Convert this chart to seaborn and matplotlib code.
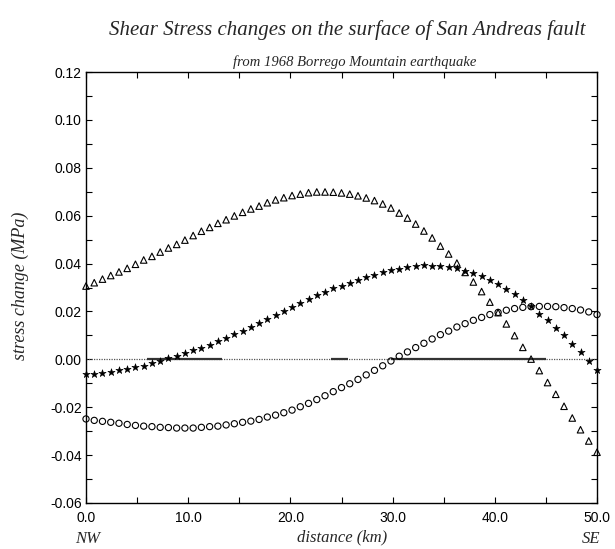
import numpy as np
import pandas as pd
import matplotlib
matplotlib.use("Agg")
import matplotlib.pyplot as plt
import seaborn as sns
from matplotlib.ticker import MultipleLocator, FormatStrFormatter

# ---- data ----
distance_km = np.linspace(0, 50, 63)

triangles = [0.0306, 0.0320, 0.0335, 0.0350, 0.0365, 0.0380, 0.0397, 0.0415, 0.0430, 0.0448,
             0.0465, 0.0480, 0.0498, 0.0517, 0.0535, 0.0551, 0.0568, 0.0583, 0.0599, 0.0614,
             0.0628, 0.0640, 0.0654, 0.0666, 0.0675, 0.0684, 0.0690, 0.0696, 0.0699, 0.0699,
             0.0698, 0.0695, 0.0690, 0.0683, 0.0674, 0.0663, 0.0649, 0.0632, 0.0611, 0.0590,
             0.0565, 0.0536, 0.0507, 0.0473, 0.0440, 0.0402, 0.0363, 0.0323, 0.0283, 0.0239,
             0.0195, 0.0148, 0.0099, 0.0050, 0.0001, -0.0047, -0.0097, -0.0146, -0.0196, -0.0245,
             -0.0294, -0.0341, -0.0388]

stars = [-0.0063, -0.0060, -0.0056, -0.0052, -0.0046, -0.0040, -0.0033, -0.0027, -0.0017, -0.0007,
         0.0004, 0.0015, 0.0026, 0.0038, 0.0049, 0.0061, 0.0075, 0.0089, 0.0104, 0.0120,
         0.0135, 0.0152, 0.0168, 0.0185, 0.0202, 0.0218, 0.0235, 0.0252, 0.0268, 0.0283,
         0.0296, 0.0307, 0.0318, 0.0330, 0.0343, 0.0354, 0.0363, 0.0373, 0.0379, 0.0386,
         0.0390, 0.0393, 0.0391, 0.0390, 0.0387, 0.0380, 0.0369, 0.0360, 0.0347, 0.0333,
         0.0313, 0.0295, 0.0272, 0.0246, 0.0221, 0.0191, 0.0163, 0.0132, 0.0100, 0.0066,
         0.0031, -0.0007, -0.0046]

circles = [-0.0249, -0.0255, -0.0259, -0.0263, -0.0267, -0.0272, -0.0276, -0.0279, -0.0281, -0.0284,
           -0.0285, -0.0287, -0.0287, -0.0287, -0.0284, -0.0281, -0.0279, -0.0274, -0.0269, -0.0263,
           -0.0258, -0.0251, -0.0241, -0.0233, -0.0223, -0.0212, -0.0198, -0.0184, -0.0168, -0.0152,
           -0.0135, -0.0118, -0.0102, -0.0084, -0.0065, -0.0046, -0.0027, -0.0007, 0.0013, 0.0031,
           0.0049, 0.0067, 0.0085, 0.0103, 0.0118, 0.0135, 0.0149, 0.0163, 0.0175, 0.0187,
           0.0196, 0.0205, 0.0212, 0.0217, 0.0220, 0.0221, 0.0221, 0.0220, 0.0216, 0.0212,
           0.0206, 0.0198, 0.0187]

# fault segments drawn solid along the zero line (km)
segment_starts = [6.0, 24.0, 29.8]
segment_ends = [13.3, 25.6, 45.0]

title = "Shear Stress changes on the surface of San Andreas fault"
subtitle = "from 1968 Borrego Mountain earthquake"
xlabel = "distance (km)"
ylabel = "stress change (MPa)"

# ---- plot ----
sns.set_style("ticks")
plt.rcParams['font.family'] = ['Liberation Sans', 'DejaVu Sans']

fig = plt.figure(figsize=(6.15, 5.49), dpi=100)
ax = fig.add_axes([86/615, 1-503/549, (597-86)/615, (503-72)/549])

df = pd.DataFrame({"distance": distance_km, "tri": triangles, "star": stars, "circ": circles})

ax.axhline(0, color="#555555", lw=0.9, ls=(0, (1, 1)), zorder=1)
ax.hlines([0]*len(segment_starts), segment_starts, segment_ends, color="#333333", lw=1.6, zorder=1)

sns.scatterplot(data=df, x="distance", y="tri", marker="^", s=22, facecolors="none",
                edgecolor="black", linewidth=0.8, ax=ax, zorder=3, clip_on=False)
sns.scatterplot(data=df, x="distance", y="circ", marker="o", s=20, facecolors="none",
                edgecolor="black", linewidth=0.8, ax=ax, zorder=3, clip_on=False)
sns.scatterplot(data=df, x="distance", y="star", marker="*", s=30, color="black",
                edgecolor="black", linewidth=0.4, ax=ax, zorder=3, clip_on=False)

ax.set_xlim(0, 50)
ax.set_ylim(-0.06, 0.12)
ax.xaxis.set_major_locator(MultipleLocator(10))
ax.xaxis.set_minor_locator(MultipleLocator(5))
ax.yaxis.set_major_locator(MultipleLocator(0.02))
ax.yaxis.set_minor_locator(MultipleLocator(0.01))
ax.xaxis.set_major_formatter(FormatStrFormatter("%.1f"))
ax.yaxis.set_major_formatter(FormatStrFormatter("%.2f"))
ax.tick_params(which="both", direction="in", top=True, right=True, length=4, width=0.8,
               labelsize=10, pad=3, colors="black")
ax.tick_params(axis="x", which="major", pad=6)
for sp in ax.spines.values():
    sp.set_visible(True)
    sp.set_linewidth(1.0)
    sp.set_color("black")

ax.set_xlabel("")
ax.set_ylabel("")
serif = ['Liberation Serif', 'DejaVu Serif']
fig.text(347/615, 1-30/549, title, ha="center", va="center", fontsize=15,
         style="italic", family=serif)
fig.text(355/615, 1-62/549, subtitle, ha="center", va="center", fontsize=10.5,
         style="italic", family=serif)
fig.text(342/615, 1-537/549, xlabel, ha="center", va="center", fontsize=12,
         style="italic", family=serif)
fig.text(20/615, 1-286/549, ylabel, ha="center", va="center", fontsize=13,
         style="italic", family=serif, rotation=90)
fig.text(75/615, 1-539/549, "NW", ha="left", va="center", fontsize=12,
         style="italic", family=serif)
fig.text(600/615, 1-539/549, "SE", ha="right", va="center", fontsize=12,
         style="italic", family=serif)

fig.savefig("out.png", dpi=100)
